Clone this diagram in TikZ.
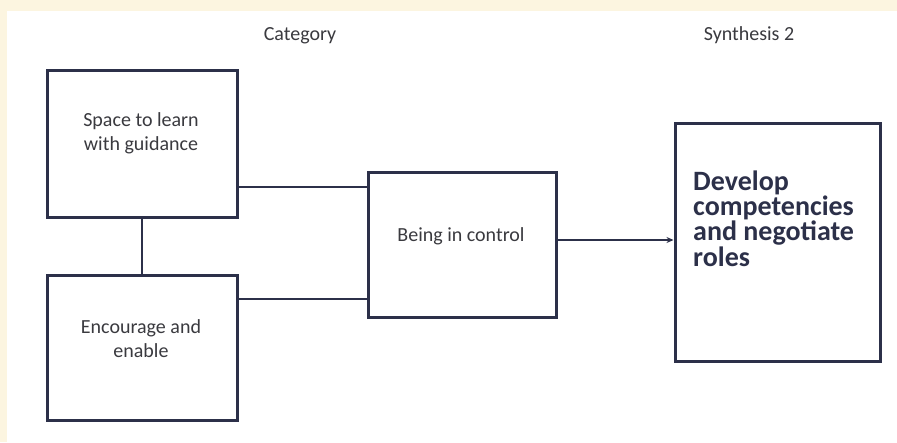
\documentclass[tikz,border=0pt]{standalone}
\usepackage{fontspec}
\setmainfont{Carlito}
\usetikzlibrary{arrows.meta}
\definecolor{frame}{HTML}{FCF5E0}
\definecolor{ink}{HTML}{2C3049}
\definecolor{txt}{HTML}{3A3A3F}
\tikzset{
  box/.style={draw=ink, line width=3pt, fill=white, inner sep=0pt, rectangle},
  link/.style={draw=ink, line width=1.2pt},
  small/.style={text=txt, font=\fontsize{20}{24}\selectfont, align=center, inner sep=0pt},
  big/.style={text=ink, font=\fontsize{28}{24}\selectfont\bfseries, align=left, inner sep=0pt}
}
\begin{document}
\begin{tikzpicture}[x=1pt, y=-1pt]
  % page: cream strip along the top and left, white sheet
  \fill[frame] (0,0) rectangle (897,442);
  \fill[white] (7,11) rectangle (897,442);
  \useasboundingbox (0,0) rectangle (897,442);

  % column headings
  \node[small, anchor=base] (hcat) at (300,40) {Category};
  \node[small, anchor=base] (hsyn) at (749,40) {Synthesis 2};

  % boxes
  \node[box, minimum width=190pt, minimum height=147pt] (space) at (142,143.5) {};
  \node[box, minimum width=190pt, minimum height=145pt] (enc) at (142,347.5) {};
  \node[box, minimum width=188pt, minimum height=145pt] (ctrl) at (462,244.5) {};
  \node[box, minimum width=205pt, minimum height=238pt] (dev) at (777.5,242) {};

  % box texts (base anchor sits on the last line)
  \node[small, anchor=base] (tspace) at (141,150) {Space to learn\\with guidance};
  \node[small, anchor=base] (tenc) at (141,357) {Encourage and\\enable};
  \node[small, anchor=base] (tctrl) at (461,241) {Being in control};
  \node[big, anchor=base west] (tdev) at (693,266) {Develop\\competencies\\and negotiate\\roles};

  % connectors
  \coordinate (a1) at (space.east |- 0,187);
  \coordinate (a2) at (enc.east |- 0,299);
  \draw[link] (space.south) -- (enc.north);
  \draw[link] (a1) -- (ctrl.west |- a1);
  \draw[link] (a2) -- (ctrl.west |- a2);
  \draw[link, -{Stealth[length=7pt, width=6pt]}] (ctrl.east |- 0,240) -- (dev.west |- 0,240);
\end{tikzpicture}
\end{document}
